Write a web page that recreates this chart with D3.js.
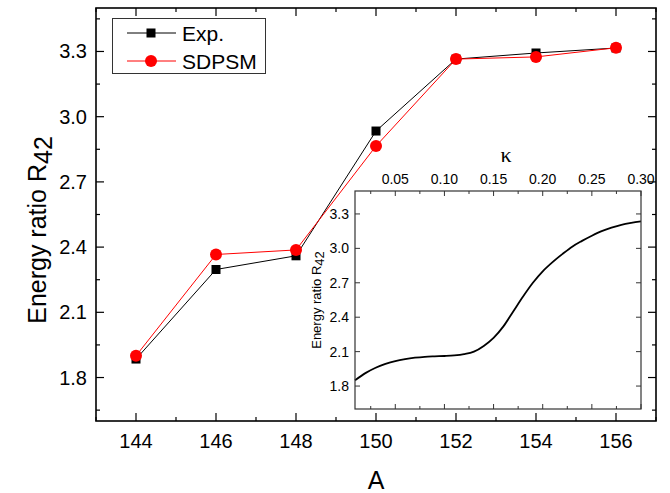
<!DOCTYPE html>
<html>
<head>
<meta charset="utf-8">
<script src="https://cdn.jsdelivr.net/npm/d3@7"></script>
<style>
  body { margin: 0; background: #fff; }
  svg { display: block; font-family: "Liberation Sans", Arial, sans-serif; }
</style>
</head>
<body>
<div id="chart"></div>
<script>
// main panel data
const massNumbers = [144, 146, 148, 150, 152, 154, 156];
const expR42 = [1.885, 2.297, 2.36, 2.934, 3.265, 3.293, 3.316];
const sdpsmR42 = [1.900, 2.366, 2.387, 2.865, 3.265, 3.275, 3.317];
const seriesNames = ["Exp.", "SDPSM"];

// inset curve R42(kappa)
const kappa = [0.009, 0.02, 0.03, 0.04, 0.05, 0.06, 0.07, 0.08, 0.09, 0.10,
               0.11, 0.12, 0.13, 0.14, 0.15, 0.16, 0.17, 0.18, 0.19, 0.20,
               0.21, 0.22, 0.23, 0.24, 0.25, 0.26, 0.27, 0.28, 0.29, 0.30];
const insetR42 = [1.85, 1.915, 1.96, 1.993, 2.018, 2.035, 2.047, 2.055, 2.059, 2.062,
                  2.067, 2.078, 2.10, 2.15, 2.22, 2.32, 2.45, 2.58, 2.70, 2.80,
                  2.88, 2.95, 3.015, 3.065, 3.11, 3.15, 3.18, 3.205, 3.222, 3.235];

const yTicks = [1.8, 2.1, 2.4, 2.7, 3.0, 3.3];
const kappaTicks = [0.05, 0.10, 0.15, 0.20, 0.25, 0.30];

const width = 670, height = 493;
const svg = d3.select("#chart").append("svg")
  .attr("width", width).attr("height", height);

// ---- main plot ----
const x = d3.scaleLinear().domain([143, 157]).range([96, 656]);
const y = d3.scaleLinear().domain([1.6, 3.5]).range([421, 8]);

const gMain = svg.append("g");

// ticks, all pointing inward
function ticksMain() {
  const major = d3.range(144, 157, 2), minor = d3.range(143, 158, 1).filter(v => v % 2 === 1);
  const yMinor = d3.range(1.65, 3.5, 0.15).filter(v => !yTicks.some(t => Math.abs(t - v) < 1e-6));
  const add = (x1, y1, x2, y2) => gMain.append("line")
    .attr("x1", x1).attr("y1", y1).attr("x2", x2).attr("y2", y2)
    .attr("stroke", "#000").attr("stroke-width", 1.2);
  major.forEach(v => { add(x(v), 421, x(v), 413); add(x(v), 8, x(v), 16); });
  minor.forEach(v => { add(x(v), 421, x(v), 417); add(x(v), 8, x(v), 12); });
  yTicks.forEach(v => { add(96, y(v), 104, y(v)); add(656, y(v), 648, y(v)); });
  yMinor.forEach(v => { add(96, y(v), 100, y(v)); add(656, y(v), 652, y(v)); });
}
ticksMain();

gMain.selectAll(".xl").data(d3.range(144, 157, 2)).join("text")
  .attr("x", d => x(d)).attr("y", 448)
  .attr("text-anchor", "middle").attr("font-size", 20)
  .text(d => d);
gMain.selectAll(".yl").data(yTicks).join("text")
  .attr("x", 87).attr("y", d => y(d) + 7)
  .attr("text-anchor", "end").attr("font-size", 20)
  .text(d => d3.format(".1f")(d));

gMain.append("text").attr("x", 376).attr("y", 489)
  .attr("text-anchor", "middle").attr("font-size", 25).text("A");

const yTitle = gMain.append("text")
  .attr("transform", "translate(46,230) rotate(-90)")
  .attr("text-anchor", "middle").attr("font-size", 25);
yTitle.append("tspan").text("Energy ratio R");
yTitle.append("tspan").attr("dy", 6).attr("font-size", 25).text("42");

// lines + markers
const line = d3.line().x(d => x(d[0])).y(d => y(d[1]));
const expData = massNumbers.map((m, i) => [m, expR42[i]]);
const sdData = massNumbers.map((m, i) => [m, sdpsmR42[i]]);

gMain.append("path").datum(expData).attr("d", line)
  .attr("fill", "none").attr("stroke", "#000").attr("stroke-width", 1);
gMain.append("path").datum(sdData).attr("d", line)
  .attr("fill", "none").attr("stroke", "#ff0000").attr("stroke-width", 1);
gMain.selectAll(".sq").data(expData).join("rect")
  .attr("x", d => x(d[0]) - 4.5).attr("y", d => y(d[1]) - 4.5)
  .attr("width", 9).attr("height", 9).attr("fill", "#000");
gMain.selectAll(".ci").data(sdData).join("circle")
  .attr("cx", d => x(d[0])).attr("cy", d => y(d[1])).attr("r", 6)
  .attr("fill", "#ff0000");

gMain.append("rect").attr("x", 96).attr("y", 8).attr("width", 560).attr("height", 413)
  .attr("fill", "none").attr("stroke", "#000").attr("stroke-width", 1.6);

// legend
const leg = svg.append("g");
leg.append("rect").attr("x", 112.5).attr("y", 18.5).attr("width", 153).attr("height", 55)
  .attr("fill", "#fff").attr("stroke", "#333").attr("stroke-width", 1);
[["#000", 33], ["#ff0000", 61]].forEach(([c, ly], i) => {
  leg.append("line").attr("x1", 127).attr("x2", 176).attr("y1", ly).attr("y2", ly)
    .attr("stroke", c).attr("stroke-width", 1);
  if (i === 0) leg.append("rect").attr("x", 146.5).attr("y", ly - 4.5).attr("width", 9).attr("height", 9).attr("fill", c);
  else leg.append("circle").attr("cx", 151).attr("cy", ly).attr("r", 6).attr("fill", c);
  leg.append("text").attr("x", 182).attr("y", ly + 7.5).attr("font-size", 21).text(seriesNames[i]);
});

// ---- inset ----
const ix = d3.scaleLinear().domain([0.009, 0.30]).range([355, 641]);
const iy = d3.scaleLinear().domain([1.6, 3.5]).range([409, 191]);
const gIn = svg.append("g");
gIn.append("rect").attr("x", 355).attr("y", 191).attr("width", 286).attr("height", 218)
  .attr("fill", "#fff");

const addI = (x1, y1, x2, y2) => gIn.append("line")
  .attr("x1", x1).attr("y1", y1).attr("x2", x2).attr("y2", y2)
  .attr("stroke", "#333").attr("stroke-width", 1);
kappaTicks.forEach(v => { addI(ix(v), 191, ix(v), 196); addI(ix(v), 409, ix(v), 404); });
d3.range(0.025, 0.3, 0.05).forEach(v => { addI(ix(v), 191, ix(v), 194); addI(ix(v), 409, ix(v), 406); });
yTicks.forEach(v => { addI(355, iy(v), 360, iy(v)); addI(641, iy(v), 636, iy(v)); });

gIn.append("path").datum(kappa.map((k, i) => [k, insetR42[i]]))
  .attr("d", d3.line().x(d => ix(d[0])).y(d => iy(d[1])).curve(d3.curveMonotoneX))
  .attr("fill", "none").attr("stroke", "#000").attr("stroke-width", 1.8);

gIn.append("rect").attr("x", 355).attr("y", 191).attr("width", 286).attr("height", 218)
  .attr("fill", "none").attr("stroke", "#333").attr("stroke-width", 1.2);

gIn.selectAll(".kl").data(kappaTicks).join("text")
  .attr("x", d => ix(d)).attr("y", 184)
  .attr("text-anchor", "middle").attr("font-size", 14)
  .text(d => d3.format(".2f")(d));
gIn.selectAll(".il").data(yTicks).join("text")
  .attr("x", 349).attr("y", d => iy(d) + 5)
  .attr("text-anchor", "end").attr("font-size", 14)
  .text(d => d3.format(".1f")(d));
gIn.append("text").attr("x", 506).attr("y", 162)
  .attr("text-anchor", "middle").attr("font-size", 22)
  .attr("font-family", "'Liberation Serif', 'DejaVu Serif', serif").text("κ");
const iyTitle = gIn.append("text")
  .attr("transform", "translate(321,300) rotate(-90)")
  .attr("text-anchor", "middle").attr("font-size", 13);
iyTitle.append("tspan").text("Energy ratio R");
iyTitle.append("tspan").attr("dy", 3).text("42");
</script>
</body>
</html>
